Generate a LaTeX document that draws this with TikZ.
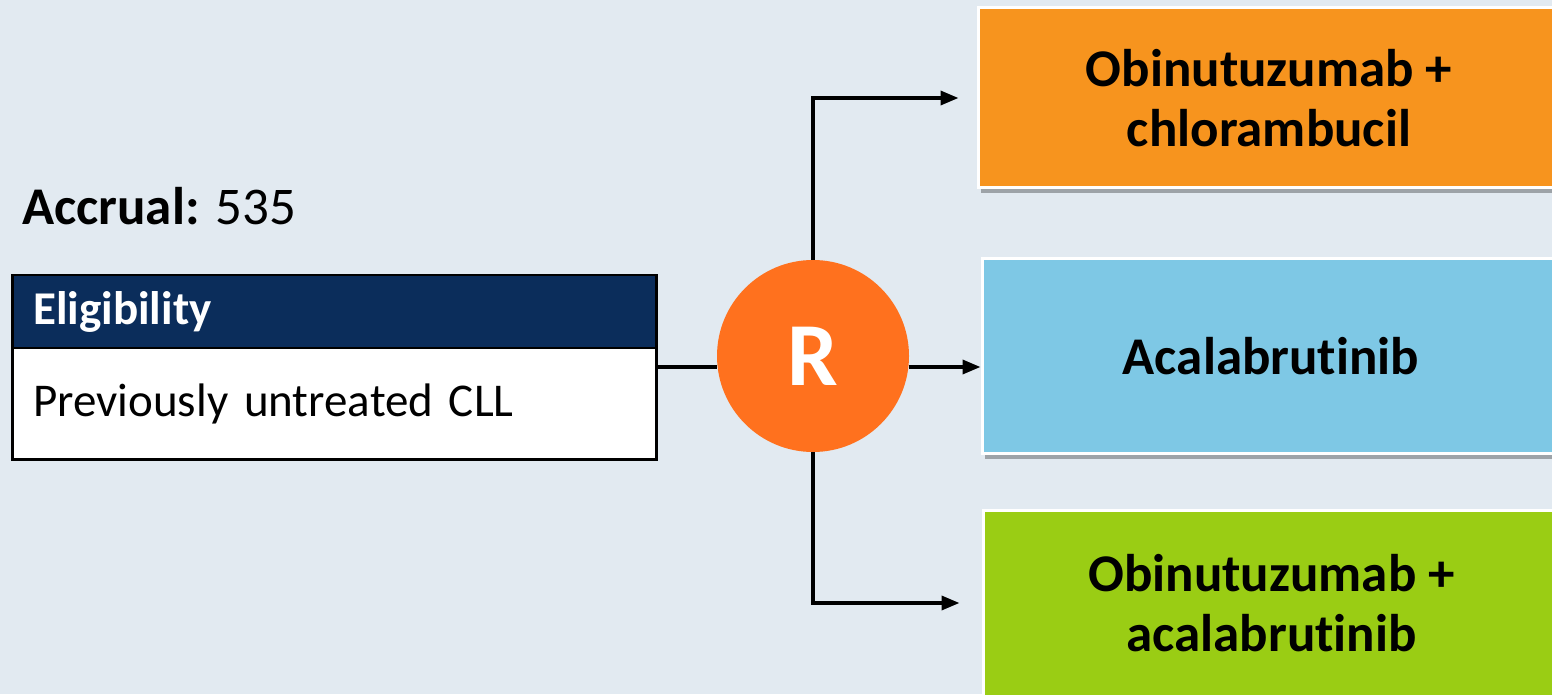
\documentclass[tikz,border=0pt]{standalone}
\usepackage{fontspec}
\setmainfont[Ligatures=NoCommon]{Carlito}
\usetikzlibrary{arrows.meta, positioning, shadows}
\definecolor{trialbg}{HTML}{E2EAF1}
\definecolor{trialnavy}{HTML}{0B2D5B}
\definecolor{trialrand}{HTML}{FF711E}
\definecolor{armorange}{HTML}{F7941E}
\definecolor{armblue}{HTML}{7EC8E5}
\definecolor{armgreen}{HTML}{9ACD14}

\begin{document}
\begin{tikzpicture}[x=1pt, y=1pt,
    armbox/.style={draw=white, line width=3pt, align=center,
        font=\fontsize{53}{60}\selectfont\bfseries,
        drop shadow={shadow xshift=3pt, shadow yshift=-5pt, fill=black, opacity=0.3}},
    eligbox/.style={draw=black, line width=2.5pt, anchor=north west,
        text width=602pt, inner xsep=21pt, align=left},
    link/.style={line width=3.5pt, black},
    linkarrow/.style={link, -{Triangle[length=18pt, width=14pt]}}]
    \useasboundingbox (0,0) rectangle (1552,694);
    \fill[trialbg] (0,0) rectangle (1552,694);

    % Accrual
    \node[anchor=base west, inner sep=0, font=\fontsize{53}{60}\selectfont] (accrual) at (22,469) {\textbf{Accrual:} 535};

    % Eligibility
    \node[eligbox, fill=trialnavy, text=white, minimum height=73pt, font=\fontsize{47}{54}\selectfont\bfseries] (eligHead) at (11,420) {Eligibility};
    \node[eligbox, fill=white, minimum height=111pt, font=\fontsize{47}{54}\selectfont] (eligBody) at (11,347) {Previously untreated CLL};

    % Randomisation
    \node[circle, fill=trialrand, minimum size=192pt, text=white, font=\fontsize{90}{100}\selectfont\bfseries] (rand) at (813,338) {R};

    % Arms
    \node[armbox, fill=armorange, minimum width=582pt, minimum height=180pt] (arm1) at (1269,596) {Obinutuzumab +\\chlorambucil};
    \node[armbox, fill=armblue, minimum width=578pt, minimum height=195pt] (arm2) at (1271,338) {Acalabrutinib};
    \node[armbox, fill=armgreen, minimum width=577pt, minimum height=186pt] (arm3) at (1271.5,91) {Obinutuzumab +\\acalabrutinib};

    % Connectors
    \draw[link] ([yshift=-20pt]eligBody.north east) -- ([yshift=-11pt]rand.west);
    \draw[linkarrow] ([yshift=-11pt]rand.east) -- ([yshift=-11pt]arm2.west);
    \draw[linkarrow] (rand.north) |- ([xshift=-18pt]arm1.west);
    \draw[linkarrow] (rand.south) |- ([xshift=-22pt]arm3.west);
\end{tikzpicture}
\end{document}
